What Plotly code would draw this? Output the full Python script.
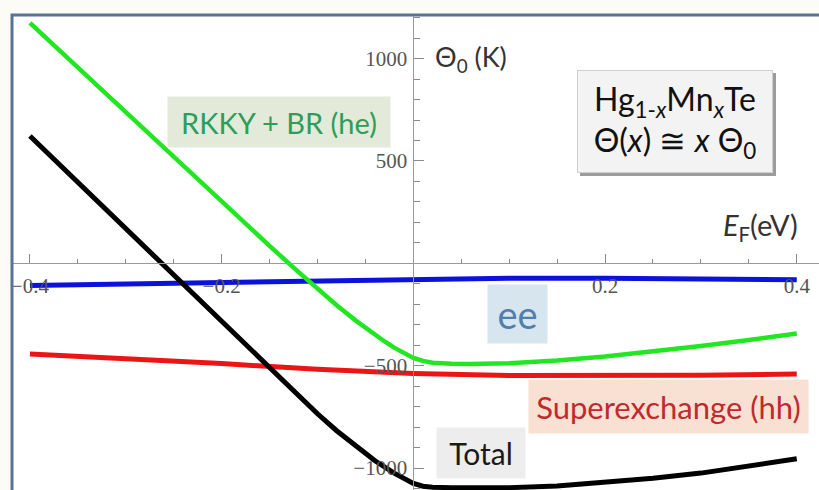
import plotly.graph_objects as go

# ---- data ----
E_green = [-0.40, -0.30, -0.20, -0.15, -0.12, -0.10, -0.08, -0.06, -0.045, -0.03, -0.02, -0.01, 0.0,
           0.01, 0.02, 0.04, 0.06, 0.10, 0.15, 0.20, 0.25, 0.30, 0.35, 0.40]
theta_green = [1175, 738, 300, 85, -42, -125, -205, -280, -333, -382, -412, -440, -462,
               -477, -486, -491, -492, -488, -475, -455, -432, -404, -375, -343]

E_black = [-0.40, -0.30, -0.20, -0.15, -0.12, -0.10, -0.08, -0.06, -0.04, -0.02, -0.01, 0.0,
           0.01, 0.02, 0.04, 0.06, 0.10, 0.15, 0.20, 0.25, 0.30, 0.35, 0.40]
theta_black = [622, 168, -286, -513, -648, -735, -818, -895, -965, -1025, -1052, -1075,
               -1089, -1094, -1096, -1097, -1096, -1088, -1072, -1050, -1025, -993, -955]

E_red = [-0.40, -0.30, -0.20, -0.10, 0.0, 0.10, 0.20, 0.30, 0.40]
theta_red = [-443, -465, -490, -518, -538, -548, -550, -547, -541]

E_blue = [-0.40, -0.30, -0.20, -0.10, 0.0, 0.10, 0.20, 0.30, 0.40]
theta_blue = [-108, -100, -93, -84, -76, -73, -73, -75, -80]

x_tickvals = [-0.4, -0.2, 0.2, 0.4]
x_ticktext = ["\u22120.4", "\u22120.2", "0.2", "0.4"]
x_minor = [-0.35, -0.3, -0.25, -0.15, -0.1, -0.05, 0.05, 0.1, 0.15, 0.25, 0.3, 0.35]
y_tickvals = [-1000, -500, 500, 1000]
y_ticktext = ["\u22121000", "\u2212500", "500", "1000"]
y_minor = [-1100, -900, -800, -700, -600, -400, -300, -200, -100,
           100, 200, 300, 400, 600, 700, 800, 900, 1100, 1200]

W, H = 819, 490
ML, MT = 12, 15
XR = [-0.4187, 0.4232]
YR = [-1107.5, 1213]


def px(x):
    return (x - ML) / (W - ML)


def py(y):
    return (H - y) / (H - MT)


fig = go.Figure()
fig.add_trace(go.Scatter(x=E_red, y=theta_red, mode="lines",
                         line=dict(color="#ec1515", width=5), showlegend=False))
fig.add_trace(go.Scatter(x=E_blue, y=theta_blue, mode="lines",
                         line=dict(color="#0b12dc", width=5), showlegend=False))
fig.add_trace(go.Scatter(x=E_green, y=theta_green, mode="lines",
                         line=dict(color="#22e622", width=4.5), showlegend=False))
fig.add_trace(go.Scatter(x=E_black, y=theta_black, mode="lines",
                         line=dict(color="#000000", width=5), showlegend=False))

tickfont = dict(family="Liberation Serif", size=21, color="#555555")

fig.update_layout(
    width=W, height=H,
    margin=dict(l=ML, r=0, t=MT, b=0, autoexpand=False),
    paper_bgcolor="#fcfbf5",
    plot_bgcolor="#ffffff",
    xaxis=dict(range=XR, anchor="free", position=(0 - YR[0]) / (YR[1] - YR[0]),
               showgrid=False, zeroline=False, showline=True, linecolor="#9a9a9a", linewidth=1,
               ticks="inside", ticklen=9, tickcolor="#8a8a8a", tickwidth=1,
               tickmode="array", tickvals=x_tickvals, ticktext=x_ticktext,
               tickfont=tickfont, ticklabelstandoff=4,
               minor=dict(tickmode="array", tickvals=x_minor, ticks="inside", ticklen=4,
                          tickcolor="#8a8a8a", showgrid=False)),
    yaxis=dict(range=YR, anchor="free", position=(0 - XR[0]) / (XR[1] - XR[0]),
               showgrid=False, zeroline=False, showline=True, linecolor="#9a9a9a", linewidth=1,
               ticks="inside", ticklen=10, tickcolor="#8a8a8a", tickwidth=1,
               tickmode="array", tickvals=y_tickvals, ticktext=y_ticktext,
               tickfont=tickfont, ticklabelstandoff=2,
               minor=dict(tickmode="array", tickvals=y_minor, ticks="inside", ticklen=6,
                          tickcolor="#8a8a8a", showgrid=False)),
)

# frame around the plot panel
fig.add_shape(type="rect", xref="paper", yref="paper", x0=0, y0=-0.05, x1=1.05, y1=1,
              line=dict(color="#5a7293", width=3), layer="above")

# shadow of the formula box
fig.add_shape(type="rect", xref="paper", yref="paper",
              x0=px(580), x1=px(776), y0=py(176), y1=py(73),
              fillcolor="#9c9c9c", line=dict(width=0), layer="above")

lab = "Lato"
annots = [
    dict(text="RKKY + BR (he)", cx=279, cy=122, w=222, h=50, bg="#e4ead9", col="#2e9d5a", size=29),
    dict(text="ee", cx=517.5, cy=314, w=59, h=58, bg="#d6e5ee", col="#4f7fae", size=38),
    dict(text="Superexchange (hh)", cx=668.5, cy=406.5, w=279, h=53, bg="#f8e0d3", col="#bf2a30", size=31),
    dict(text="Total", cx=481, cy=453, w=88, h=50, bg="#ededee", col="#1a1a1a", size=30),
]
for a in annots:
    fig.add_annotation(text=a["text"], xref="paper", yref="paper", x=px(a["cx"]), y=py(a["cy"]),
                       xanchor="center", yanchor="middle", showarrow=False,
                       width=a["w"], height=a["h"], bgcolor=a["bg"], borderpad=0,
                       font=dict(family=lab, size=a["size"], color=a["col"]))

fig.add_annotation(text="Hg<sub>1-<i>x</i></sub>Mn<sub><i>x</i></sub>Te<br>\u0398(<i>x</i>) \u2245 <i>x</i> \u0398<sub>0</sub>",
                   xref="paper", yref="paper", x=px(675), y=py(121.5),
                   xanchor="center", yanchor="middle", showarrow=False,
                   width=194, height=101, bgcolor="#f3f3f3", bordercolor="#d0d0d0", borderwidth=1,
                   borderpad=0, font=dict(family=lab, size=32, color="#111111"))

fig.add_annotation(text="\u0398<sub>0</sub> (K)", xref="paper", yref="paper",
                   x=px(433), y=py(58), xanchor="left", yanchor="middle", showarrow=False,
                   font=dict(family=lab, size=27, color="#333333"))
fig.add_annotation(text="<i>E</i><sub>F</sub>(eV)", xref="paper", yref="paper",
                   x=px(800), y=py(226), xanchor="right", yanchor="middle", showarrow=False,
                   font=dict(family=lab, size=29, color="#333333"))

fig.write_html("out.html", config={"displayModeBar": False},
               post_script="document.body.style.margin='0';document.body.style.background='#fcfbf5';")
